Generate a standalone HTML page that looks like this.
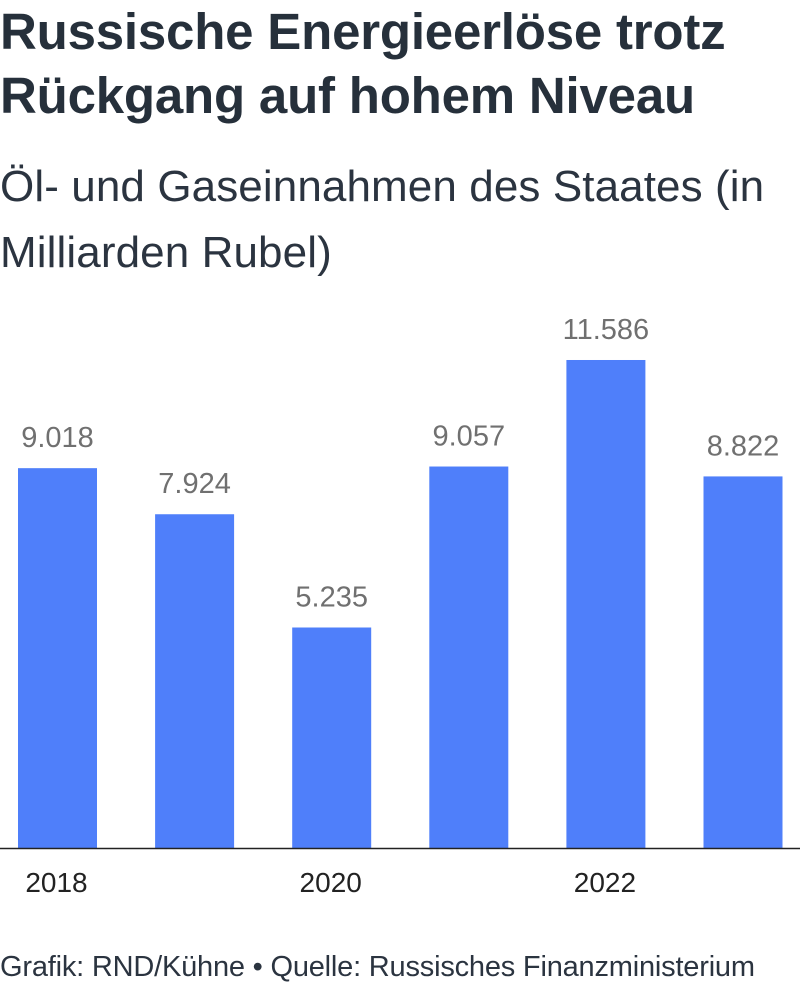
<!DOCTYPE html>
<html><head><meta charset="utf-8">
<style>
body{margin:0;width:800px;height:987px;background:#fff;font-family:"Liberation Sans",sans-serif;overflow:hidden;position:relative}
h1{position:absolute;left:0;top:0px;margin:0;font-size:51px;line-height:64px;font-weight:bold;color:#26303b;width:820px;letter-spacing:-0.2px;white-space:nowrap}
.sub{position:absolute;left:0;top:154px;margin:0;font-size:44px;line-height:66px;color:#2b3440;width:820px;white-space:nowrap;letter-spacing:0.1px}
.foot{position:absolute;left:0;top:951px;font-size:29px;color:#2b3440;white-space:nowrap;letter-spacing:-0.2px}
svg{position:absolute;left:0;top:0}
</style></head><body>
<h1>Russische Energieerlöse trotz<br>Rückgang auf hohem Niveau</h1>
<p class="sub">Öl- und Gaseinnahmen des Staates (in<br>Milliarden Rubel)</p>
<svg id="chart" width="800" height="987"></svg>
<div class="foot">Grafik: RND/Kühne • Quelle: Russisches Finanzministerium</div>
<script>
const years=[2018,2019,2020,2021,2022,2023];
const values=[9.018,7.924,5.235,9.057,11.586,8.822];
const valueLabels=["9.018","7.924","5.235","9.057","11.586","8.822"];
const tickYears=[2018,2020,2022];
const svg=document.getElementById('chart');
const NS='http://www.w3.org/2000/svg';
const base=848, pxPerUnit=42.12, x0=18, step=137.1, bw=79;
const xPos=i=>x0+i*step;
const yPos=v=>base-v*pxPerUnit;
values.forEach((v,i)=>{
  const r=document.createElementNS(NS,'rect');
  r.setAttribute('x',xPos(i));r.setAttribute('y',yPos(v));
  r.setAttribute('width',bw);r.setAttribute('height',base-yPos(v));
  r.setAttribute('fill','#4f7ffa');
  
  
  svg.appendChild(r);
  const t=document.createElementNS(NS,'text');
  t.setAttribute('x',xPos(i)+bw/2);t.setAttribute('y',yPos(v)-21);
  t.setAttribute('text-anchor','middle');t.setAttribute('font-size','29');
  t.setAttribute('fill','#707070');t.setAttribute('font-family','Liberation Sans, sans-serif');
  t.textContent=valueLabels[i];
  
  
  svg.appendChild(t);
});
const ax=document.createElementNS(NS,'line');
ax.setAttribute('x1',0);ax.setAttribute('x2',800);ax.setAttribute('y1',base+0.5);ax.setAttribute('y2',base+0.5);
ax.setAttribute('stroke','#222');ax.setAttribute('stroke-width','1.5');


svg.appendChild(ax);
tickYears.forEach(y=>{
  const i=years.indexOf(y);
  const t=document.createElementNS(NS,'text');
  t.setAttribute('x',xPos(i)+bw/2-1);t.setAttribute('y',892);
  t.setAttribute('text-anchor','middle');t.setAttribute('font-size','28');
  t.setAttribute('fill','#222');t.setAttribute('font-family','Liberation Sans, sans-serif');
  t.textContent=y;
  
  
  svg.appendChild(t);
});
</script>
</body></html>
